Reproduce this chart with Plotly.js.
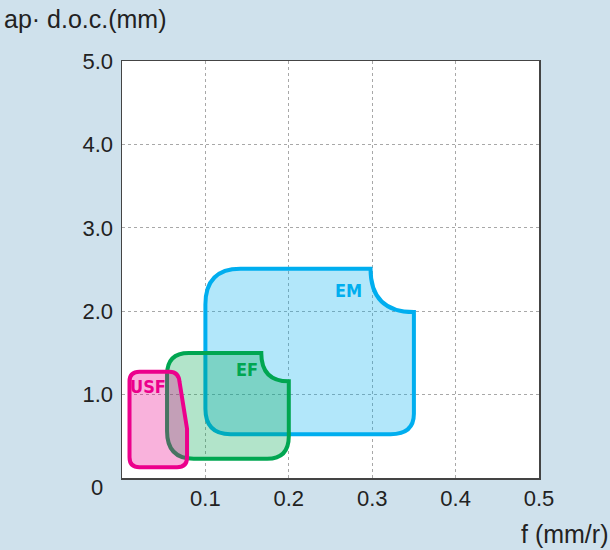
<!DOCTYPE html>
<html>
<head>
<meta charset="utf-8">
<script src="https://cdn.plot.ly/plotly-3.0.1.min.js"></script>
<style>html,body{margin:0;padding:0;background:#cfe1ec;}</style>
</head>
<body>
<div id="chart" style="width:610px;height:550px;"></div>
<script>
// ---- data ----
const xTickVals = [0.1, 0.2, 0.3, 0.4, 0.5];
const xTickText = ["0.1", "0.2", "0.3", "0.4", "0.5"];
const yTickVals = [1, 2, 3, 4, 5];
const yTickText = ["1.0", "2.0", "3.0", "4.0", "5.0"];

const regionNames = ["EM", "EF", "USF"];
const regionLineColors = ["#00aeef", "#00a651", "#ec008c"];
const regionFillColors = ["rgba(0,174,239,0.30)", "rgba(0,166,81,0.30)", "rgba(236,0,140,0.30)"];
// label anchor positions (f, ap)
const labelX = [0.272, 0.150, 0.031];
const labelY = [2.25, 1.30, 1.10];

// outlines: [command, x, y, ...] in data units (f mm/r, ap mm)
const emOutline = [
  ["M", 0.100, 2.08],
  ["Q", 0.100, 2.51, 0.142, 2.51],
  ["L", 0.298, 2.51],
  ["Q", 0.298, 1.99, 0.350, 1.99],
  ["L", 0.350, 0.77],
  ["Q", 0.350, 0.525, 0.322, 0.525],
  ["L", 0.130, 0.525],
  ["Q", 0.100, 0.525, 0.100, 0.83],
  ["Z"]
];
const efOutline = [
  ["M", 0.054, 1.24],
  ["Q", 0.054, 1.50, 0.080, 1.50],
  ["L", 0.167, 1.50],
  ["Q", 0.167, 1.16, 0.200, 1.16],
  ["L", 0.200, 0.50],
  ["Q", 0.200, 0.23, 0.174, 0.23],
  ["L", 0.086, 0.23],
  ["Q", 0.054, 0.23, 0.054, 0.56],
  ["Z"]
];
const usfOutline = [
  ["M", 0.009, 1.16],
  ["Q", 0.009, 1.275, 0.021, 1.275],
  ["L", 0.057, 1.275],
  ["Q", 0.068, 1.275, 0.069, 1.15],
  ["L", 0.078, 0.59],
  ["L", 0.078, 0.25],
  ["Q", 0.078, 0.13, 0.066, 0.13],
  ["L", 0.021, 0.13],
  ["Q", 0.009, 0.13, 0.009, 0.25],
  ["Z"]
];
const outlines = [emOutline, efOutline, usfOutline];

// ---- build figure ----
function toPath(cmds) {
  return cmds.map(function (c) {
    const nums = c.slice(1);
    const pairs = [];
    for (let i = 0; i < nums.length; i += 2) pairs.push(nums[i] + "," + nums[i + 1]);
    return c[0] + (pairs.length ? " " + pairs.join(" ") : "");
  }).join(" ");
}

const shapes = outlines.map(function (o, i) {
  return {
    type: "path", xref: "x", yref: "y", layer: "above",
    path: toPath(o),
    fillcolor: regionFillColors[i],
    line: { color: regionLineColors[i], width: 4 }
  };
});

const labelFont = "Liberation Sans Narrow, DejaVu Sans Condensed, Arial Narrow, sans-serif";
const annotations = regionNames.map(function (n, i) {
  return {
    x: labelX[i], y: labelY[i], xref: "x", yref: "y",
    text: "<b>" + n + "</b>", showarrow: false,
    font: { family: labelFont, size: 18, color: regionLineColors[i] },
    xanchor: "center", yanchor: "middle"
  };
});
const mainFont = "Liberation Sans, Arial, Helvetica, sans-serif";
annotations.push({
  x: 0, y: 0, xref: "x", yref: "y", text: "0", showarrow: false,
  xanchor: "center", yanchor: "middle", xshift: -25, yshift: -9,
  font: { family: mainFont, size: 22, color: "#222" }
});
annotations.push({
  x: 0, y: 1, xref: "paper", yref: "paper", text: "ap· d.o.c.(mm)", showarrow: false,
  xanchor: "left", yanchor: "middle", xshift: -120, yshift: 42,
  font: { family: mainFont, size: 25, color: "#222" }
});
annotations.push({
  x: 1, y: 0, xref: "paper", yref: "paper", text: "f (mm/r)", showarrow: false,
  xanchor: "right", yanchor: "middle", xshift: 71, yshift: -56,
  font: { family: mainFont, size: 25, color: "#222" }
});

const axisCommon = {
  showgrid: true, gridcolor: "#a8a8a8", gridwidth: 1, griddash: "dot",
  showline: true, linecolor: "#444", linewidth: 1.5, mirror: true,
  zeroline: false, ticks: "", fixedrange: true,
  tickfont: { family: mainFont, size: 22, color: "#222" }
};

const layout = {
  width: 610, height: 550,
  paper_bgcolor: "#cfe1ec", plot_bgcolor: "#ffffff",
  margin: { l: 122, r: 71, t: 61, b: 72 },
  showlegend: false,
  xaxis: Object.assign({}, axisCommon, { range: [0, 0.5], tickmode: "array", tickvals: xTickVals, ticktext: xTickText, ticklabelstandoff: 0 }),
  yaxis: Object.assign({}, axisCommon, { range: [0, 5], tickmode: "array", tickvals: yTickVals, ticktext: yTickText, ticklabelstandoff: 3 }),
  shapes: shapes,
  annotations: annotations
};

Plotly.newPlot("chart", [], layout, { displayModeBar: false, staticPlot: true });
</script>
</body>
</html>
